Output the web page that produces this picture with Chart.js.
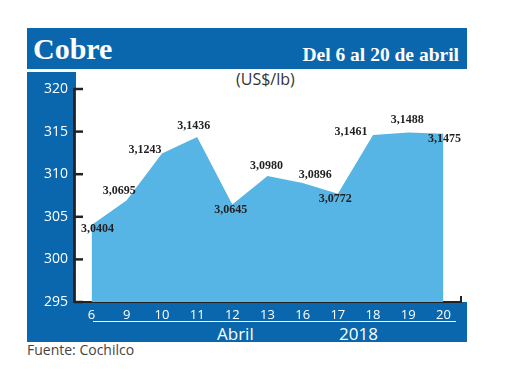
<!DOCTYPE html>
<html>
<head>
<meta charset="utf-8">
<script src="https://cdn.jsdelivr.net/npm/chart.js@4/dist/chart.umd.min.js"></script>
<style>
  html, body { margin: 0; padding: 0; background: #fff; }
  #wrap { position: relative; width: 520px; height: 390px; overflow: hidden; }
  .blk { position: absolute; background: #0a67ad; }
  .txt { position: absolute; white-space: nowrap; }
  canvas { position: absolute; left: 0; top: 0; }
</style>
</head>
<body>
<div id="wrap">
  <div class="blk" style="left:27px;top:28px;width:440px;height:41px;"></div>
  <div class="blk" style="left:27px;top:72px;width:49px;height:270px;"></div>
  <div class="blk" style="left:27px;top:302px;width:440px;height:40px;"></div>
  <div class="txt" style="left:33px;top:28px;font:bold 30px 'Liberation Serif',serif;line-height:41px;height:41px;color:#fff;">Cobre</div>
  <div class="txt" style="right:61px;top:34px;font:bold 19.5px 'Liberation Serif',serif;line-height:41px;color:#fff;">Del 6 al 20 de abril</div>
  <div class="txt" style="left:236px;top:68px;font:16px 'Open Sans',sans-serif;color:#333;">(US$/lb)</div>
  <div style="position:absolute;left:93px;top:321px;width:363px;height:0;border-top:1.5px solid #fff;"></div>
  <div class="txt" style="left:217px;top:322px;font:17px 'Open Sans',sans-serif;color:#fff;">Abril</div>
  <div class="txt" style="left:339px;top:322px;font:17px 'Open Sans',sans-serif;color:#fff;">2018</div>
  <div class="txt" style="left:27px;top:340px;font:14px 'Open Sans',sans-serif;color:#444;">Fuente: Cochilco</div>
  <canvas id="c" width="520" height="390"></canvas>
</div>
<script>
// ---- data ----
const days = ['6', '9', '10', '11', '12', '13', '16', '17', '18', '19', '20'];
const prices = [304.04, 306.95, 312.43, 314.36, 306.45, 309.80, 308.96, 307.72, 314.61, 314.88, 314.75];
const yTicks = [295, 300, 305, 310, 315, 320];

// label placement (pixel offsets from each point), style only
const labelOffsets = [[6,4],[-7.5,-9],[-17,-4],[-3.5,-11],[-1.5,5],[-1,-10],[12.5,-8],[-2.5,5],[-22,-3],[-1,-13],[1,5.5]];

const decor = {
  id: 'decor',
  afterDraw(chart) {
    const ctx = chart.ctx;
    const y = chart.scales.y;
    const area = chart.chartArea;
    ctx.save();
    ctx.strokeStyle = '#222';
    ctx.lineWidth = 2.5;
    yTicks.forEach(v => {
      const py = y.getPixelForValue(v);
      ctx.beginPath();
      ctx.moveTo(area.left, py);
      ctx.lineTo(area.left + 9, py);
      ctx.stroke();
    });
    ctx.lineWidth = 2;
    ctx.beginPath();
    ctx.moveTo(area.right, area.bottom);
    ctx.lineTo(area.right, area.bottom - 6);
    ctx.stroke();
    // value labels
    const meta = chart.getDatasetMeta(0);
    ctx.fillStyle = '#231f20';
    ctx.font = 'bold 12px "Liberation Serif", serif';
    ctx.textAlign = 'center';
    ctx.textBaseline = 'middle';
    meta.data.forEach((pt, i) => {
      const txt = (prices[i] / 100).toFixed(4).replace('.', ',');
      const off = labelOffsets[i];
      ctx.fillText(txt, pt.x + off[0], pt.y + off[1]);
    });
    ctx.restore();
  }
};

new Chart(document.getElementById('c'), {
  type: 'line',
  data: {
    labels: days,
    datasets: [{
      data: prices,
      fill: 'start',
      backgroundColor: '#56b5e4',
      borderWidth: 0,
      pointRadius: 0,
      tension: 0
    }]
  },
  options: {
    responsive: false,
    animation: false,
    events: [],
    layout: { padding: { left: 0, top: 89, right: 59, bottom: 58 } },
    plugins: { legend: { display: false }, tooltip: { enabled: false } },
    scales: {
      x: {
        offset: true,
        grid: { display: false, drawTicks: false },
        border: { display: true, color: '#222', width: 2 },
        ticks: { color: '#fff', font: { family: 'Open Sans', size: 13 }, padding: 5, maxRotation: 0, autoSkip: false },
        afterFit(s) { s.height = 30; }
      },
      y: {
        min: 295, max: 320,
        afterBuildTicks(s) { s.ticks = yTicks.map(v => ({ value: v })); },
        grid: { display: false, drawTicks: false },
        border: { display: true, color: '#222', width: 2.5 },
        ticks: { color: '#fff', font: { family: 'Open Sans', size: 14 }, padding: 6 },
        afterFit(s) { s.width = 74; }
      }
    }
  },
  plugins: [decor]
});
</script>
</body>
</html>
